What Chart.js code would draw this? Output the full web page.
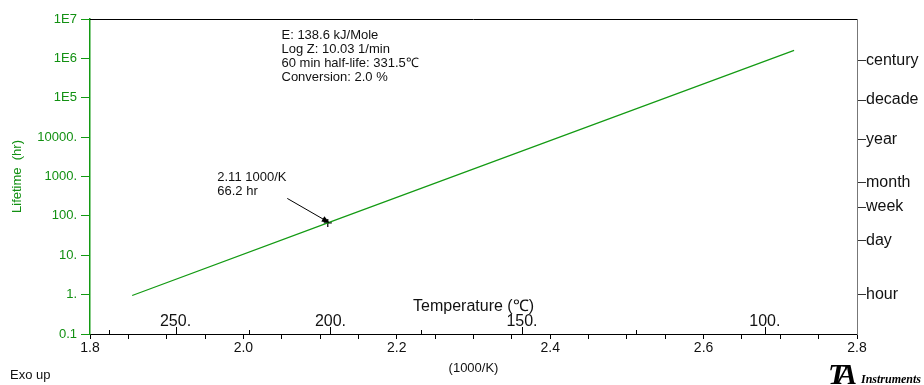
<!DOCTYPE html>
<html><head><meta charset="utf-8">
<script src="https://cdn.jsdelivr.net/npm/chart.js@4.4.1/dist/chart.umd.min.js"></script>
<style>html,body{margin:0;padding:0;background:#fff}canvas{display:block}</style>
</head><body>
<canvas id="c" width="924" height="385"></canvas>
<script>
// Lifetime line: x = 1000/K, y = lifetime in hours
const invTemp = [1.855, 2.11, 2.718];
const lifetimeHr = [0.95, 66.2, 1.6e6];
// Cursor point on the line
const markInvTemp = 2.11;
const markLifetime = 66.2;
// Left axis (hours)
const lifeTicks = [0.1, 1, 10, 100, 1000, 10000, 1e5, 1e6, 1e7];
const lifeTickLabels = ['0.1', '1.', '10.', '100.', '1000.', '10000.', '1E5', '1E6', '1E7'];
// Right axis: time units expressed in hours
const unitHours = [1, 24, 168, 720, 8760, 87600, 876000];
const unitLabels = ['hour', 'day', 'week', 'month', 'year', 'decade', 'century'];
// Temperature ticks (°C) along the 1000/K axis; labelled every 50
const tempTicks = [275, 250, 225, 200, 175, 150, 125, 100];
const tempLabelled = [250, 200, 150, 100];
// Kinetic parameters
const kineticsText = ['E: 138.6 kJ/Mole', 'Log Z: 10.03 1/min', '60 min half-life: 331.5\u2103', 'Conversion: 2.0 %'];

const GREEN_TXT = '#129012';
const GREEN_LINE = '#139a13';
const SANS = "'Liberation Sans', Arial, Helvetica, sans-serif";
const SERIF = "'Liberation Serif', 'Times New Roman', serif";

Chart.defaults.font.family = SANS;

const extras = {
  id: 'extras',
  beforeDraw(chart) {
    const c = chart.ctx;
    c.save();
    c.fillStyle = '#fff';
    c.fillRect(0, 0, chart.width, chart.height);
    c.restore();
  },
  afterDraw(chart) {
    const c = chart.ctx;
    const a = chart.chartArea;
    const xs = chart.scales.x, ys = chart.scales.y;
    c.save();
    // top frame line
    c.strokeStyle = '#000';
    c.lineWidth = 1;
    c.beginPath();
    c.moveTo(a.left, a.top + 0.5);
    c.lineTo(a.right, a.top + 0.5);
    c.stroke();

    // temperature ticks pointing up from the bottom axis
    tempTicks.forEach(t => {
      const px = Math.round(xs.getPixelForValue(1000 / (t + 273.15))) + 0.5;
      const len = tempLabelled.includes(t) ? 7 : 4;
      c.beginPath();
      c.moveTo(px, a.bottom);
      c.lineTo(px, a.bottom - len);
      c.stroke();
    });
    c.fillStyle = '#111';
    c.font = '16px ' + SANS;
    c.textAlign = 'center';
    c.textBaseline = 'alphabetic';
    tempLabelled.forEach(t => {
      const px = xs.getPixelForValue(1000 / (t + 273.15));
      c.fillText(t + '.', px, a.bottom - 8.5);
    });
    const cx = (a.left + a.right) / 2;
    c.fillText('Temperature (\u2103)', cx, a.bottom - 23.5);

    // bottom texts
    c.font = '13px ' + SANS;
    c.fillText('(1000/K)', cx, 372);
    c.textAlign = 'left';
    c.fillText('Exo up', 10, 378.5);

    // y title
    c.save();
    c.translate(20.5, (a.top + a.bottom) / 2);
    c.rotate(-Math.PI / 2);
    c.textAlign = 'center';
    c.fillStyle = GREEN_TXT;
    c.fillText('Lifetime  (hr)', 0, 0);
    c.restore();

    // kinetics block
    c.fillStyle = '#111';
    c.font = '13px ' + SANS;
    kineticsText.forEach((s, i) => c.fillText(s, 281.5, 39 + i * 14));

    // cursor annotation
    const mx = xs.getPixelForValue(markInvTemp);
    const my = ys.getPixelForValue(markLifetime);
    c.fillText(markInvTemp.toFixed(2) + ' 1000/K', mx - 110.5, my - 42);
    c.fillText(markLifetime.toFixed(1) + ' hr', mx - 110.5, my - 28);
    const sx = mx - 40.5, sy = my - 24.5;
    const ex = mx + 2, ey = my;
    const ang = Math.atan2(ey - sy, ex - sx);
    c.strokeStyle = '#000';
    c.lineWidth = 1;
    c.beginPath();
    c.moveTo(sx, sy);
    c.lineTo(ex - 5 * Math.cos(ang), ey - 5 * Math.sin(ang));
    c.stroke();
    c.fillStyle = '#000';
    c.beginPath();
    c.moveTo(ex, ey);
    c.lineTo(ex - 8 * Math.cos(ang) + 3 * Math.sin(ang), ey - 8 * Math.sin(ang) - 3 * Math.cos(ang));
    c.lineTo(ex - 8 * Math.cos(ang) - 3 * Math.sin(ang), ey - 8 * Math.sin(ang) + 3 * Math.cos(ang));
    c.closePath();
    c.fill();

    // logo
    c.fillStyle = '#000';
    c.textAlign = 'left';
    c.font = 'italic bold 30px ' + SERIF;
    c.fillText('T', 828, 384);
    c.fillText('A', 837, 384);
    c.font = 'italic bold 12px ' + SERIF;
    c.fillText('Instruments', 861, 383);
    c.restore();
  }
};

new Chart(document.getElementById('c'), {
  type: 'scatter',
  data: {
    datasets: [
      {
        data: invTemp.map((x, i) => ({ x, y: lifetimeHr[i] })),
        showLine: true,
        borderColor: GREEN_LINE,
        borderWidth: 1.2,
        pointRadius: 0,
        yAxisID: 'y'
      },
      {
        data: [{ x: markInvTemp, y: markLifetime }],
        pointStyle: 'cross',
        pointRadius: 4,
        borderColor: '#000',
        borderWidth: 1.2,
        yAxisID: 'y'
      }
    ]
  },
  plugins: [extras],
  options: {
    responsive: false,
    animation: false,
    devicePixelRatio: 1,
    layout: { padding: { top: 19, left: 0, right: 0, bottom: 0 } },
    plugins: { legend: { display: false }, tooltip: { enabled: false } },
    scales: {
      x: {
        type: 'linear',
        position: 'bottom',
        min: 1.8,
        max: 2.8,
        afterFit: s => { s.height = 51; },
        border: { display: true, color: '#000', width: 1 },
        grid: { drawOnChartArea: false, drawTicks: true, tickLength: 5, color: '#000' },
        ticks: {
          stepSize: 0.05,
          autoSkip: false,
          maxRotation: 0,
          padding: 1,
          color: '#111',
          font: { size: 14 },
          callback: v => Math.abs(v * 5 - Math.round(v * 5)) < 1e-6 ? v.toFixed(1) : ''
        }
      },
      y: {
        type: 'logarithmic',
        position: 'left',
        min: 0.1,
        max: 1e7,
        afterFit: s => { s.width = 90; },
        afterBuildTicks: s => { s.ticks = lifeTicks.map(v => ({ value: v })); },
        border: { display: true, color: GREEN_LINE, width: 1.5 },
        grid: { drawOnChartArea: false, drawTicks: true, tickLength: 9, color: GREEN_LINE },
        ticks: {
          padding: 4,
          color: GREEN_TXT,
          font: { size: 13 },
          callback: (v, i) => lifeTickLabels[i]
        }
      },
      y2: {
        type: 'logarithmic',
        position: 'right',
        min: 0.1,
        max: 1e7,
        afterFit: s => { s.width = 67; },
        afterBuildTicks: s => { s.ticks = unitHours.map(v => ({ value: v })); },
        border: { display: true, color: '#777', width: 1 },
        grid: { drawOnChartArea: false, drawTicks: true, tickLength: 9, color: '#333' },
        ticks: {
          padding: 0,
          color: '#111',
          font: { size: 16 },
          callback: (v, i) => unitLabels[i]
        }
      }
    }
  }
});
</script>
</body></html>
